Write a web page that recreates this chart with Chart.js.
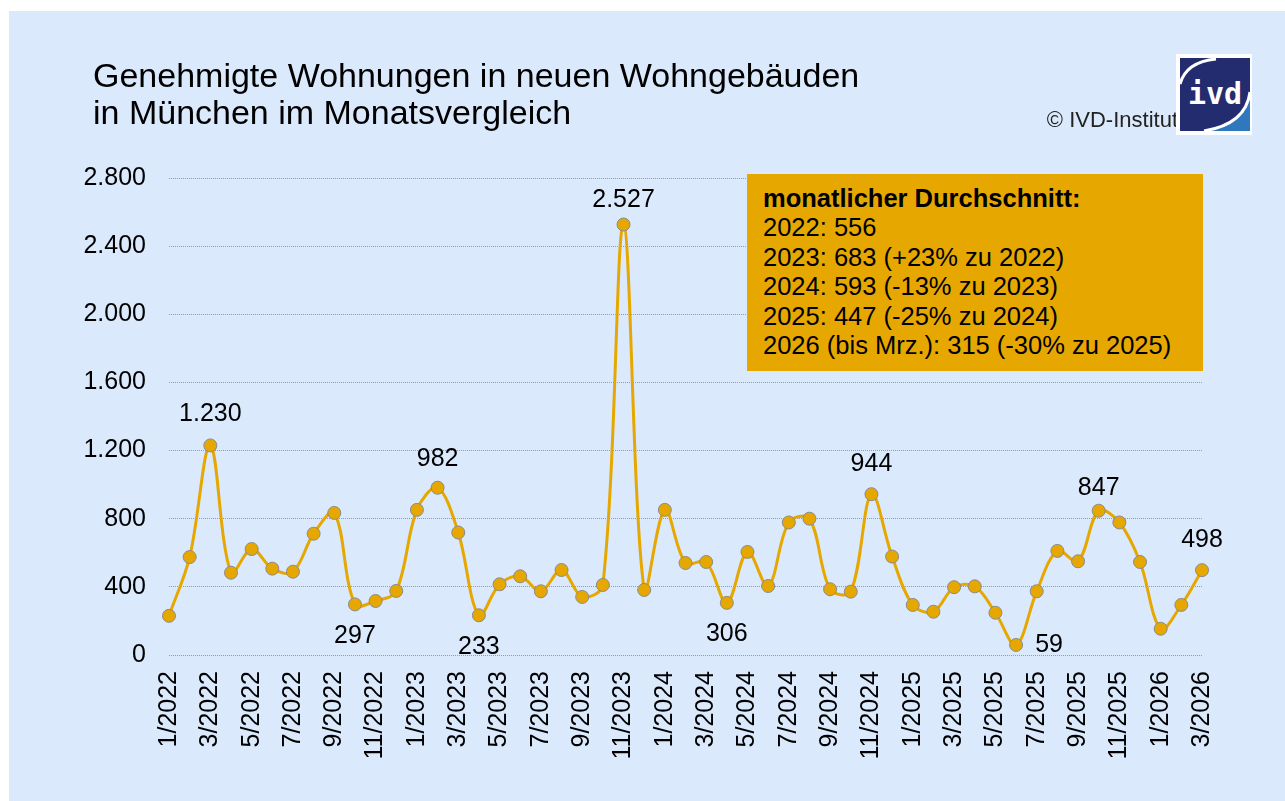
<!DOCTYPE html>
<html lang="de">
<head>
<meta charset="utf-8">
<script src="https://cdn.jsdelivr.net/npm/chart.js@4.4.1/dist/chart.umd.min.js"></script>
<style>
  html, body { margin: 0; padding: 0; background: #ffffff; }
  body { width: 1285px; height: 801px; position: relative; overflow: hidden; font-family: "Liberation Sans", Arial, sans-serif; }
  #panel { position: absolute; left: 9px; top: 11px; right: 0; bottom: 0; background: #dbe9fc; }
  #c { position: absolute; left: 0; top: 0; }
  #title { position: absolute; left: 93px; top: 57px; font-size: 34px; line-height: 37px; color: #000; white-space: nowrap; }
  #copy { position: absolute; right: 107px; top: 107px; font-size: 22px; line-height: 26px; color: #222; white-space: nowrap; }
  #logo { position: absolute; left: 1176px; top: 54px; }
  #box { position: absolute; left: 747px; top: 174px; width: 456px; height: 197px; background: #e6a800; box-sizing: border-box; padding: 10px 0 0 16px; font-size: 25.5px; line-height: 29.4px; color: #000; white-space: nowrap; }
  #box b { font-weight: bold; }
</style>
</head>
<body>
<div id="panel"></div>
<canvas id="c" width="1285" height="801"></canvas>
<div id="title">Genehmigte Wohnungen in neuen Wohngebäuden<br>in München im Monatsvergleich</div>
<div id="copy">© IVD-Institut</div>
<svg id="logo" width="76" height="81" viewBox="0 0 76 81">
  <rect x="0" y="0" width="76" height="81" fill="#ffffff"/>
  <rect x="4" y="4" width="70" height="73" fill="#232c6e"/>
  <path d="M74 40 Q70 70 30 77 L74 77 Z" fill="#2f78bd"/>
  <path d="M4 30 Q10 8 40 5" stroke="#ffffff" stroke-width="3" fill="none"/>
  <path d="M74 38 Q70 70 28 77" stroke="#ffffff" stroke-width="3" fill="none"/>
  <text x="39" y="50" text-anchor="middle" font-family="DejaVu Sans Mono, monospace" font-weight="bold" font-size="30" fill="#ffffff">ivd</text>
</svg>
<div id="box"><b>monatlicher Durchschnitt:</b><br>2022: 556<br>2023: 683 (+23% zu 2022)<br>2024: 593 (-13% zu 2023)<br>2025: 447 (-25% zu 2024)<br>2026 (bis Mrz.): 315 (-30% zu 2025)</div>
<script>
// ---- data ----
const months = [
  "1/2022","2/2022","3/2022","4/2022","5/2022","6/2022","7/2022","8/2022","9/2022","10/2022","11/2022","12/2022",
  "1/2023","2/2023","3/2023","4/2023","5/2023","6/2023","7/2023","8/2023","9/2023","10/2023","11/2023","12/2023",
  "1/2024","2/2024","3/2024","4/2024","5/2024","6/2024","7/2024","8/2024","9/2024","10/2024","11/2024","12/2024",
  "1/2025","2/2025","3/2025","4/2025","5/2025","6/2025","7/2025","8/2025","9/2025","10/2025","11/2025","12/2025",
  "1/2026","2/2026","3/2026"
];
const values2022 = [230, 575, 1230, 483, 622, 507, 489, 712, 834, 297, 317, 376];
const values2023 = [852, 982, 719, 233, 415, 462, 374, 499, 341, 411, 2527, 382];
const values2024 = [852, 540, 546, 306, 605, 405, 778, 800, 386, 372, 944, 578];
const values2025 = [294, 254, 398, 403, 248, 59, 374, 611, 550, 847, 778, 546];
const values2026 = [154, 294, 498];
const approvals = [].concat(values2022, values2023, values2024, values2025, values2026);
const yTicks = [0, 400, 800, 1200, 1600, 2000, 2400, 2800];
// which points carry a value label and where it sits
const labelledPoints = [
  { month: "3/2022", place: "above", dy: -31 },
  { month: "10/2022", place: "below", dy: 32 },
  { month: "2/2023", place: "above", dy: -29 },
  { month: "4/2023", place: "below", dy: 32 },
  { month: "11/2023", place: "above", dy: -24 },
  { month: "4/2024", place: "below", dy: 31 },
  { month: "11/2024", place: "above", dy: -30 },
  { month: "6/2025", place: "right", dy: 0 },
  { month: "10/2025", place: "above", dy: -23 },
  { month: "3/2026", place: "above", dy: -30 }
];

const FONT = '"Liberation Sans", Arial, sans-serif';
const LINE = '#e6a800';

function fmtDE(v) {
  return String(Math.round(v)).replace(/\B(?=(\d{3})+(?!\d))/g, '.');
}

const valueLabels = {
  id: 'valueLabels',
  afterDatasetsDraw(chart) {
    const ctx = chart.ctx;
    const meta = chart.getDatasetMeta(0);
    ctx.save();
    ctx.font = '25px ' + FONT;
    ctx.fillStyle = '#000';
    ctx.textBaseline = 'middle';
    labelledPoints.forEach(lp => {
      const i = months.indexOf(lp.month);
      const pt = meta.data[i];
      if (!pt) return;
      const txt = fmtDE(approvals[i]);
      if (lp.place === 'right') {
        ctx.textAlign = 'center';
        ctx.fillText(txt, pt.x + 33, pt.y + lp.dy);
      } else {
        ctx.textAlign = 'center';
        ctx.fillText(txt, pt.x, pt.y + lp.dy);
      }
    });
    ctx.restore();
  }
};

new Chart(document.getElementById('c'), {
  type: 'line',
  data: {
    labels: months,
    datasets: [{
      data: approvals,
      borderColor: LINE,
      borderWidth: 3,
      tension: 0.35,
      pointRadius: 6.5,
      pointBackgroundColor: LINE,
      pointBorderColor: '#8a8a8a',
      pointBorderWidth: 1,
      fill: false
    }]
  },
  options: {
    responsive: false,
    animation: false,
    devicePixelRatio: 1,
    layout: { padding: { left: 0, top: 178, right: 83, bottom: 0 } },
    plugins: { legend: { display: false }, title: { display: false }, tooltip: { enabled: false } },
    scales: {
      x: {
        offset: false,
        grid: { display: false, drawTicks: false },
        border: { display: false },
        afterFit(scale) { scale.height = 146; },
        ticks: {
          autoSkip: false,
          maxRotation: 90,
          minRotation: 90,
          padding: 16,
          color: '#000',
          font: { family: FONT, size: 25 },
          callback(val, idx) { return idx % 2 === 0 ? months[idx] : ''; }
        }
      },
      y: {
        min: yTicks[0],
        max: yTicks[yTicks.length - 1],
        afterFit(scale) { scale.width = 169; },
        afterBuildTicks(scale) { scale.ticks = yTicks.map(v => ({ value: v })); },
        grid: { color: '#9a9a9a', lineWidth: 1, drawTicks: false },
        border: { display: false, dash: [1, 1] },
        ticks: {
          padding: 23,
          color: '#000',
          font: { family: FONT, size: 25 },
          callback(v) { return fmtDE(v); }
        }
      }
    }
  },
  plugins: [valueLabels]
});
</script>
</body>
</html>
